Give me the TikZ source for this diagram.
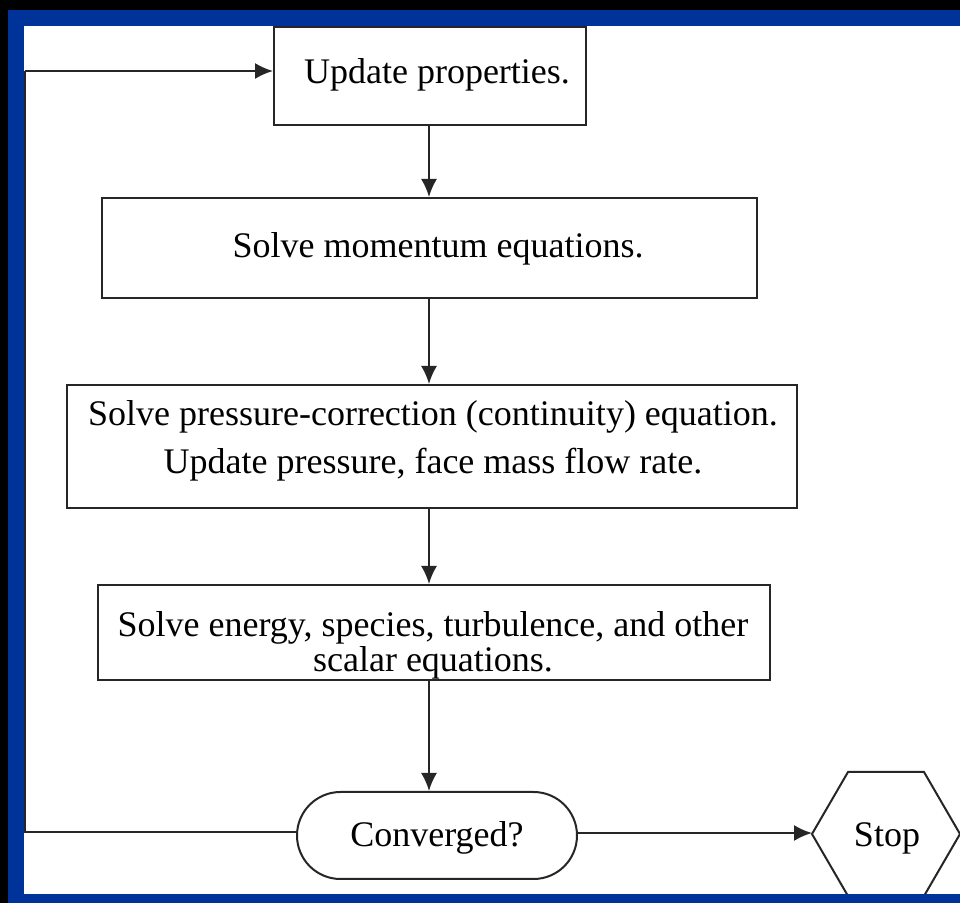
\documentclass[tikz,border=0pt]{standalone}
\usepackage{fontspec}
\setmainfont{Liberation Serif}
\usetikzlibrary{arrows.meta,shapes.misc}
\definecolor{frameblue}{RGB}{0,51,153}
\tikzset{
  box/.style={draw=black!85, line width=1pt, fill=white, inner sep=0pt},
  txt/.style={inner sep=0pt, align=center, font=\fontsize{18}{24}\selectfont},
  arr/.style={draw=black!85, line width=1pt, -{Latex[length=9pt,width=8pt]}},
  ln/.style={draw=black!85, line width=1pt},
}
\begin{document}
\begin{tikzpicture}[x=0.5pt,y=-0.5pt]
% background and frame
\fill[black] (0,0) rectangle (960,903);
\fill[frameblue] (8,10) rectangle (960,903);
\fill[white] (24,26) rectangle (960,894);
\useasboundingbox (0,0) rectangle (960,903);

% boxes
\node[box, minimum width=156pt, minimum height=49pt] (b1) at (430,76) {};
\node[txt] (t1) at (437,75) {Update properties.};
\node[box, minimum width=327.5pt, minimum height=50pt] (b2) at (429.5,248) {};
\node[txt] (t2) at (438,249) {Solve momentum equations.};
\node[box, minimum width=365pt, minimum height=61.5pt] (b3) at (432,446.5) {};
\node[txt] (t3a) at (433,417) {Solve pressure-correction (continuity) equation.};
\node[txt] (t3b) at (433,465) {Update pressure, face mass flow rate.};
\node[box, minimum width=336pt, minimum height=47.5pt] (b4) at (434,632.5) {};
\node[txt] (t4a) at (433,628) {Solve energy, species, turbulence, and other};
\node[txt] (t4b) at (433,663) {scalar equations.};
\node[box, rounded rectangle, minimum width=140pt, minimum height=43.5pt] (conv) at (437,835.5) {};
\node[txt] (tc) at (437,838) {Converged?};

% stop hexagon
\coordinate (stopL) at (812,834);
\draw[ln, fill=white] (stopL) -- (848,772) -- (924,772) -- (960,834) -- (924,896) -- (848,896) -- cycle;
\node[txt] (ts) at (887,838) {Stop};

% connectors
\coordinate (ax) at (429,0);
\draw[arr] (b1.south -| ax) -- (b2.north -| ax);
\draw[arr] (b2.south -| ax) -- (b3.north -| ax);
\draw[arr] (b3.south -| ax) -- (b4.north -| ax);
\draw[arr] (b4.south -| ax) -- (conv.north -| ax);
\coordinate (cr) at (577,833);
\draw[arr] (cr) -- (stopL |- cr);
\coordinate (loopB) at (24.5,832);
\coordinate (loopT) at (24.5,71);
\draw[ln] (conv.west |- loopB) -- (loopB) -- (loopT);
\draw[arr] (loopT) -- (b1.west |- loopT);

% bottom blue band drawn over hexagon
\fill[frameblue] (24,894) rectangle (960,903);
\end{tikzpicture}
\end{document}
